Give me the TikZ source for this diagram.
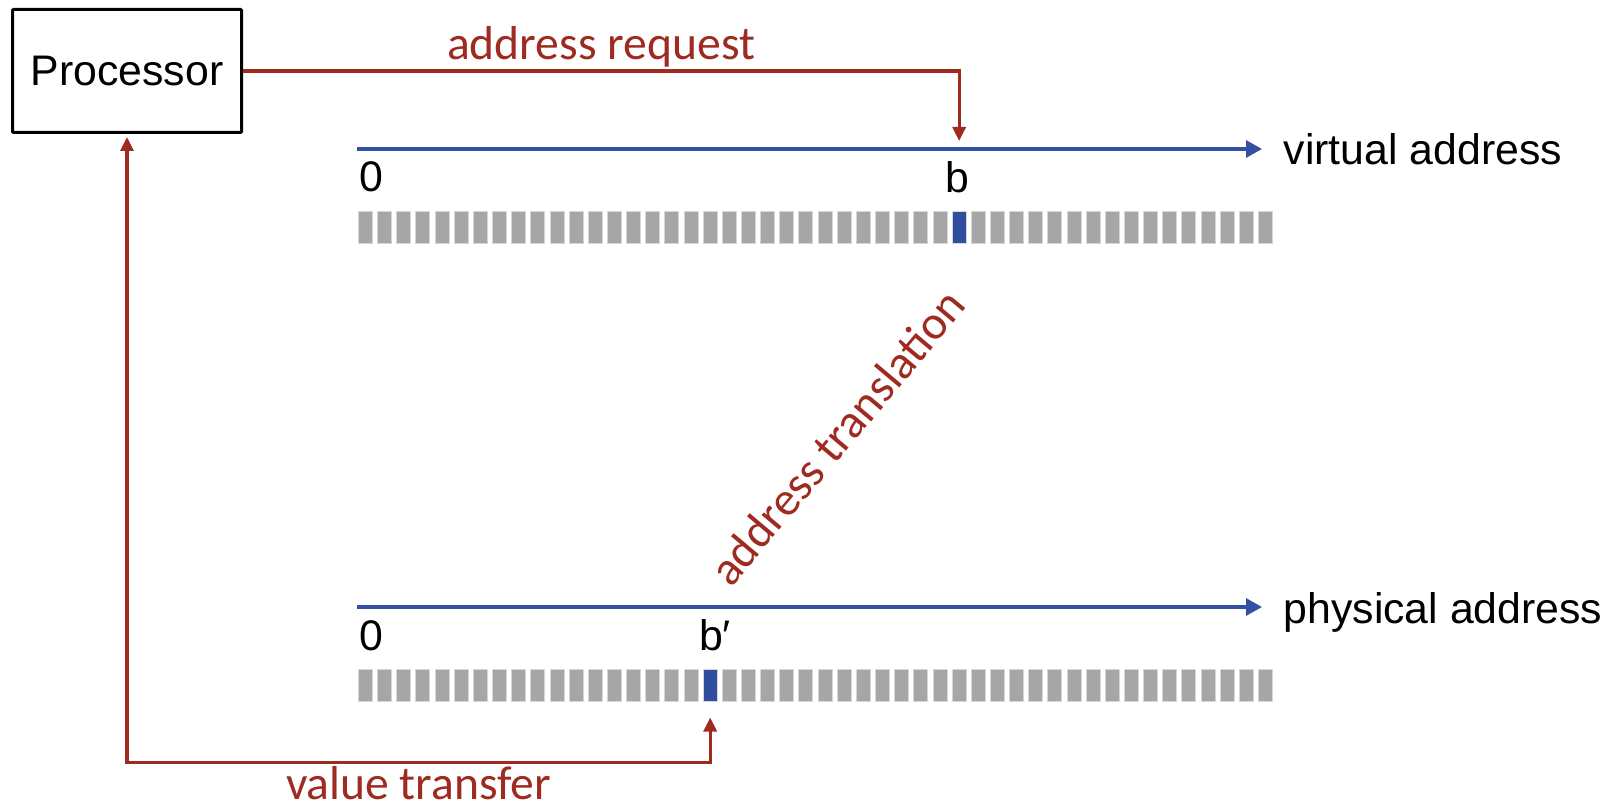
\documentclass[tikz,border=0pt]{standalone}
\usepackage{fontspec}
\setmainfont{Liberation Sans}
\newfontfamily\calib{Carlito}
\usetikzlibrary{arrows.meta}

\definecolor{redc}{RGB}{158,42,32}
\definecolor{bluec}{RGB}{52,80,162}
\definecolor{cellgray}{RGB}{166,166,166}
\definecolor{cellblue}{RGB}{47,78,160}
\definecolor{celledge}{RGB}{215,215,215}

\tikzset{
	txt/.style={font=\fontsize{21.4}{25}\selectfont, inner sep=0pt},
	redtxt/.style={font=\calib\fontsize{23.8}{28}\selectfont, text=redc, inner sep=1pt},
	axis/.style={draw=bluec, line width=1.6pt, -{Triangle[length=8pt,width=8.5pt]}},
	redarrow/.style={draw=redc, line width=1.6pt},
	cell/.style={draw=celledge, line width=0.5pt, minimum width=7pt, minimum height=16pt, inner sep=0pt},
	procbox/.style={draw, line width=1.5pt, minimum width=114.5pt, minimum height=61.5pt, rounded corners=0.5pt}
}

\begin{document}
\begin{tikzpicture}[x=0.5pt, y=-0.5pt]
		\useasboundingbox (0,0) rectangle (1611,812);

		\node[procbox, txt] (proc) at (127,71) {Processor};

		% virtual address line
		\coordinate (v0) at (357,149);
		\coordinate (vend) at (1262,149);
		\draw[axis] (v0) -- (vend) node[txt, anchor=base west, xshift=10pt, yshift=-8pt] (vlab) {virtual address};
		\node[txt, anchor=base] (vzero) at (371,192) {0};
		\node[txt, anchor=base] (vb) at (957,193) {b};
		\foreach \i in {0,...,47}{
			\ifnum\i=31 \def\cf{cellblue}\else\def\cf{cellgray}\fi
			\node[cell, fill=\cf] (vc\i) at ({365.5+19.15*\i},227.5) {};
		}

		% physical address line
		\coordinate (p0) at (357,607);
		\coordinate (pend) at (1262,607);
		\draw[axis] (p0) -- (pend) node[txt, anchor=base west, xshift=10pt, yshift=-8pt] (plab) {physical address};
		\node[txt, anchor=base] (pzero) at (371,650) {0};
		\node[txt, anchor=base] (pb) at (715,650) {b′};
		\foreach \i in {0,...,47}{
			\ifnum\i=18 \def\cf{cellblue}\else\def\cf{cellgray}\fi
			\node[cell, fill=\cf] (pc\i) at ({365.5+19.15*\i},685) {};
		}

		% request and transfer
		\coordinate (vreq) at ([yshift=35pt]vc31.north);
		\draw[redarrow, -{Triangle[length=7pt,width=6.5pt]}] (proc.east) -| node[redtxt, pos=0.25, above] {address request} (vreq);

		\coordinate (ptop) at ([yshift=-8pt]pc18.south);
		\coordinate (pdown) at ([yshift=-22.5pt]ptop);
		\draw[redarrow, {Triangle[length=7pt,width=6.5pt]}-{Triangle[length=7pt,width=6.5pt]}, shorten <=1.5pt]
			(proc.south) |- (pdown) node[redtxt, pos=0.75, below] {value transfer} -- (ptop);

		\node[redtxt, rotate=50] (trans) at (837,437) {address translation};
	\end{tikzpicture}
\end{document}
